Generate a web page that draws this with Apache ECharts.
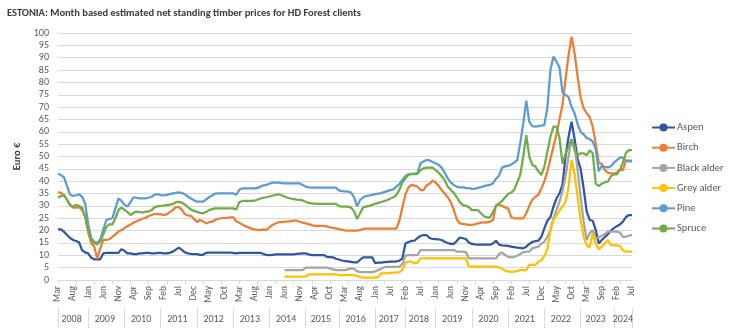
<!DOCTYPE html>
<html><head><meta charset="utf-8">
<script src="https://cdn.jsdelivr.net/npm/echarts@6/dist/echarts.min.js"></script>
<style>html,body{margin:0;padding:0;background:#fff}#c{width:731px;height:328px}</style>
</head><body><div id="c"></div>
<script>
// Category groups (year -> months present in the data)
const yearMonths = [
  ['2008', 'Mar Apr May Jun Jul Aug Sep Oct Nov Dec'],
  ['2009', 'Jan Feb Mar Apr May Jun Jul Aug Sep Oct Nov Dec'],
  ['2010', 'Jan Feb Mar Apr May Jun Jul Aug Sep Oct Nov Dec'],
  ['2011', 'Jan Feb Mar Apr May Jun Jul Aug Sep Oct Nov Dec'],
  ['2012', 'Jan Feb Mar Apr May Jun Jul Aug Sep Oct Nov Dec'],
  ['2013', 'Jan Feb Mar Apr May Jun Jul Aug Sep Oct Nov Dec'],
  ['2014', 'Jan Feb Mar Apr May Jun Jul Aug Sep Oct Nov Dec'],
  ['2015', 'Jan Feb Mar Apr May Jun Aug Sep Oct Nov Dec'],
  ['2016', 'Jan Feb Mar Apr May Jun Jul Aug Sep Oct Nov Dec'],
  ['2017', 'Jan Feb Mar Apr May Jul Aug Sep Oct Dec'],
  ['2018', 'Feb Mar Apr May Jun Jul Aug Sep Oct Nov'],
  ['2019', 'Jan Feb Mar Apr May Jun Jul Aug Sep Oct Nov Dec'],
  ['2020', 'Jan Feb Mar Apr May Jun Jul Aug Sep Oct Nov Dec'],
  ['2021', 'Jan Feb Mar Apr May Jun Jul Aug Sep Oct Nov Dec'],
  ['2022', 'Jan Feb Mar Apr May Jun Jul Aug Sep Oct Nov Dec'],
  ['2023', 'Jan Feb Mar Apr May Jun Aug Sep Oct Nov Dec'],
  ['2024', 'Jan Feb Mar Apr May Jun Jul']
];

const seriesNames = ['Aspen', 'Birch', 'Black alder', 'Grey alder', 'Pine', 'Spruce'];
const yTicks = {min: 0, max: 100, step: 5};

const aspen = [
  20.5,20.5,19.5,18.2,17.0,16.2,15.8,15.2,12.0,11.2,
  10.8,9.0,8.4,8.4,8.4,10.8,11.0,11.0,11.0,11.0,
  11.0,12.5,11.8,10.8,10.8,10.5,10.5,10.8,10.8,11.0,
  11.0,10.8,10.8,11.0,11.0,10.8,10.8,11.0,11.5,12.3,
  13.1,12.2,11.2,10.8,10.6,10.5,10.5,10.2,10.2,11.0,
  11.1,11.1,11.1,11.1,11.1,11.1,11.1,11.1,11.0,10.8,
  11.0,11.0,11.0,11.0,11.0,11.0,11.0,11.0,10.5,10.2,
  10.1,10.2,10.4,10.4,10.4,10.4,10.4,10.4,10.4,10.6,
  10.7,10.8,10.8,10.4,10.1,10.1,10.1,10.1,10.1,9.4,
  9.3,9.2,8.6,8.3,7.9,7.6,7.5,7.3,7.1,7.1,
  8.2,9.2,9.2,9.2,9.2,6.8,7.0,7.0,7.2,7.3,
  7.4,7.4,7.5,7.8,8.8,14.8,15.4,15.8,15.9,17.0,
  17.8,18.2,18.2,17.0,16.6,16.5,16.4,16.2,15.5,15.0,
  14.6,14.6,15.8,17.2,16.9,16.6,15.2,14.6,14.4,14.3,
  14.3,14.3,14.3,14.3,14.8,15.9,14.3,14.0,13.9,13.8,
  13.5,13.3,13.1,13.0,12.8,13.5,14.6,15.4,15.7,15.9,
  17.5,21.0,24.0,25.5,29.7,33.0,35.1,38.5,50.0,58.0,
  64.1,57.0,49.0,45.0,37.0,27.7,24.3,24.0,20.2,14.8,
  16.2,17.3,18.5,20.0,21.0,21.8,22.5,23.6,25.5,26.3,26.3
];
const birch = [
  35.6,35.3,34.4,32.4,30.4,29.3,29.3,29.5,28.3,25.5,
  19.2,15.0,13.5,8.6,12.8,16.2,16.2,16.5,17.5,18.5,
  19.6,20.2,21.0,21.8,22.5,23.2,23.8,24.3,24.8,25.2,
  25.9,26.3,26.7,26.7,26.6,26.4,26.6,27.5,28.3,29.5,
  29.5,28.5,26.6,26.2,26.0,24.8,23.5,24.3,23.8,22.9,
  23.4,23.6,24.3,24.8,25.0,25.1,25.2,25.4,25.4,23.8,
  23.2,22.5,21.8,21.3,20.8,20.5,20.3,20.2,20.5,20.3,
  21.3,22.3,22.9,23.4,23.4,23.6,23.6,23.8,24.0,24.0,
  23.6,23.2,22.9,22.6,22.2,21.9,21.9,21.9,21.9,21.7,
  21.3,21.1,20.9,20.6,20.3,20.1,20.0,20.0,20.0,20.0,
  20.2,20.7,20.8,20.8,20.8,20.8,20.8,20.8,20.8,20.8,
  20.8,20.8,20.8,24.0,29.5,34.5,37.5,38.5,38.2,37.8,
  36.4,36.4,38.3,39.0,40.3,39.4,38.2,36.4,35.0,33.5,
  31.5,28.5,24.5,22.9,22.7,22.5,22.3,22.3,22.5,22.9,
  23.2,23.3,23.3,23.6,24.3,30.4,30.4,30.0,29.4,29.0,
  25.5,25.0,25.0,25.0,25.0,27.0,30.0,32.6,33.7,34.5,
  37.0,40.0,44.0,49.0,54.0,59.0,65.0,71.0,81.0,91.0,
  98.5,91.8,82.3,74.0,69.5,67.5,66.0,62.0,55.3,47.5,
  47.0,44.5,43.5,43.2,43.2,43.5,44.8,44.5,48.3,48.3,48.3
];
const blackAlder = [
  null,null,null,null,null,null,null,null,null,null,
  null,null,null,null,null,null,null,null,null,null,
  null,null,null,null,null,null,null,null,null,null,
  null,null,null,null,null,null,null,null,null,null,
  null,null,null,null,null,null,null,null,null,null,
  null,null,null,null,null,null,null,null,null,null,
  null,null,null,null,null,null,null,null,null,null,
  null,null,null,null,null,4.0,4.0,4.0,4.0,4.0,
  4.0,4.0,5.0,5.0,5.0,5.0,5.0,5.0,5.0,5.0,
  4.7,4.3,4.0,4.0,4.0,4.0,4.3,4.7,4.5,3.5,
  3.3,3.2,3.2,3.2,3.2,3.5,4.0,4.5,5.2,5.3,
  5.3,5.3,5.3,5.3,6.5,9.8,10.1,10.1,10.1,10.2,
  12.1,12.1,12.1,12.1,12.1,12.1,12.1,12.1,12.1,12.1,
  12.1,12.1,11.5,11.5,11.5,11.3,8.8,8.8,8.8,8.8,
  8.8,8.8,8.8,8.8,8.8,8.8,10.5,11.1,10.1,9.4,
  9.2,9.4,9.8,10.5,11.2,11.5,11.5,12.8,13.2,13.5,
  14.8,15.5,17.5,20.2,25.0,28.3,31.7,36.0,41.8,50.0,
  57.0,54.0,44.5,33.7,23.6,16.2,18.9,20.2,16.9,17.2,
  17.8,18.6,19.6,19.6,19.6,19.6,19.2,17.5,17.5,18.0,18.2
];
const greyAlder = [
  null,null,null,null,null,null,null,null,null,null,
  null,null,null,null,null,null,null,null,null,null,
  null,null,null,null,null,null,null,null,null,null,
  null,null,null,null,null,null,null,null,null,null,
  null,null,null,null,null,null,null,null,null,null,
  null,null,null,null,null,null,null,null,null,null,
  null,null,null,null,null,null,null,null,null,null,
  null,null,null,null,null,1.4,1.4,1.4,1.4,1.4,
  1.4,1.4,1.4,2.3,2.3,2.3,2.3,2.3,2.3,2.3,
  2.3,2.3,2.3,2.0,2.0,2.0,2.0,2.0,2.0,1.6,
  1.2,1.0,1.0,1.0,1.0,1.0,1.2,2.7,2.7,2.8,
  2.9,3.0,3.1,3.2,4.0,7.1,7.4,7.4,6.7,7.0,
  8.8,8.8,8.8,8.8,8.8,8.8,8.8,8.8,8.8,8.8,
  8.8,8.8,8.8,8.8,8.8,8.8,5.4,5.4,5.4,5.4,
  5.4,5.4,5.4,5.4,5.4,5.4,5.2,4.5,3.8,3.4,
  3.4,3.4,3.6,4.0,4.0,4.0,6.1,6.1,6.1,7.4,
  8.1,9.7,12.5,20.2,24.3,26.3,28.0,30.0,31.5,37.8,
  48.6,43.0,33.7,24.3,17.5,14.2,13.0,18.9,14.8,12.4,
  13.5,14.8,16.2,14.2,14.0,14.0,13.8,12.0,11.5,11.5,11.5
];
const pine = [
  43.0,42.5,41.5,38.0,34.6,34.0,34.3,34.7,33.7,31.0,
  22.5,17.0,15.5,15.0,16.5,20.5,24.3,24.7,25.0,29.0,
  33.0,32.0,30.5,29.7,31.5,33.5,33.3,33.0,33.0,33.0,
  33.3,33.7,34.6,34.8,34.3,34.3,34.5,34.8,35.1,35.3,
  35.5,35.2,34.7,33.8,33.0,32.3,31.7,31.7,31.7,32.6,
  33.5,34.2,35.0,35.1,35.1,35.1,35.1,35.1,35.1,34.5,
  36.5,37.1,37.1,37.1,37.1,37.1,37.3,37.8,38.3,38.5,
  39.0,39.4,39.4,39.4,39.2,39.1,39.1,39.1,39.1,39.1,
  39.1,38.5,37.8,37.5,37.4,37.4,37.4,37.4,37.4,37.4,
  37.4,37.4,37.4,36.3,36.0,35.9,35.8,35.4,33.5,29.8,
  32.4,33.5,34.0,34.2,34.5,34.8,35.0,35.2,35.6,36.0,
  36.4,36.7,37.8,38.8,40.5,42.0,42.8,43.0,43.1,43.3,
  47.2,48.0,48.6,48.4,47.8,47.3,46.6,45.5,43.5,41.2,
  39.5,38.5,37.8,37.5,37.5,37.3,37.2,36.9,37.0,37.3,
  37.6,38.0,38.3,38.5,39.2,41.0,42.3,45.5,46.0,46.2,
  46.8,47.5,48.5,55.3,63.4,72.6,64.0,62.3,62.1,62.3,
  62.5,62.8,70.0,85.0,90.5,88.5,86.0,76.0,75.0,74.0,
  70.0,67.5,63.0,60.0,59.0,57.5,57.0,56.0,53.0,44.0,
  46.2,45.8,45.6,46.0,47.5,48.5,49.5,49.5,48.3,48.0,48.0
];
const spruce = [
  33.3,34.0,34.4,32.4,30.3,29.7,30.4,30.0,29.3,25.6,
  20.5,16.5,15.0,14.4,15.5,18.5,21.5,22.5,22.5,25.0,
  28.3,29.3,28.5,27.5,26.3,27.2,27.7,27.5,27.4,27.7,
  27.7,28.3,29.5,29.8,30.0,30.1,30.3,30.5,30.8,31.5,
  31.6,31.3,30.6,29.5,28.5,28.0,27.6,27.2,27.0,27.5,
  28.3,28.7,29.0,29.0,29.0,29.0,29.0,29.0,29.0,28.5,
  31.5,32.0,32.0,32.0,32.0,32.1,32.5,33.0,33.3,33.5,
  33.8,34.1,34.5,34.7,34.3,33.8,33.3,33.0,32.7,32.5,
  32.4,32.2,31.7,31.2,31.0,30.9,30.8,30.8,30.8,30.8,
  30.8,30.8,30.8,29.9,29.7,29.7,29.7,29.3,27.8,24.7,
  27.0,29.4,29.7,30.0,30.4,30.8,31.2,31.6,32.0,32.4,
  33.0,33.5,34.4,36.5,39.5,41.2,42.5,42.9,42.9,43.0,
  44.5,45.2,45.5,45.5,45.5,44.5,43.5,42.0,40.5,37.8,
  36.5,35.3,33.5,31.5,30.4,30.0,29.5,28.3,28.3,28.3,
  27.0,25.8,25.4,25.4,27.5,30.0,31.0,32.0,33.5,34.8,
  35.4,36.5,39.5,42.5,50.0,58.7,50.0,46.6,46.0,44.0,
  42.5,46.0,52.0,58.0,62.1,62.1,57.5,47.0,51.0,54.0,
  57.0,52.6,50.6,51.3,51.3,50.5,52.5,51.3,39.0,38.0,
  39.0,39.5,39.8,42.0,42.8,42.8,44.5,47.5,51.5,52.6,52.6
];
const seriesData = [aspen, birch, blackAlder, greyAlder, pine, spruce];
const colors = ['#2E56A6', '#ED7D31', '#A5A5A5', '#FFC000', '#5B9BD5', '#70AD47'];

// build category axis data
const categories = [];
const monthOf = [];
const yearStart = new Set();
const yearMid = {};
yearMonths.forEach(([y, ms]) => {
  const list = ms.split(' ');
  const start = categories.length;
  yearStart.add(start);
  const n = list.length;
  yearMid[start + Math.floor((n - 1) / 2)] = n % 2 === 0 ? '{e|' + y + '}' : '{o|' + y + '}';
  list.forEach(m => { categories.push(m + ' ' + y); monthOf.push(m); });
});
yearStart.add(categories.length - 1);

const FONT = 'Carlito, "Liberation Sans Narrow", "DejaVu Sans Condensed", "Open Sans", sans-serif';
const chart = echarts.init(document.getElementById('c'), null, {renderer: 'canvas'});
chart.setOption({
  animation: false,
  backgroundColor: '#ffffff',
  textStyle: {fontFamily: FONT},
  title: {
    text: 'ESTONIA: Month based estimated net standing timber prices for HD Forest clients',
    left: 7, top: 8, padding: 0,
    textStyle: {fontSize: 10.5, fontWeight: 'bold', color: '#3a3a3a', fontFamily: FONT}
  },
  legend: {
    orient: 'vertical', left: 651, top: 122, padding: 0,
    itemWidth: 23, itemHeight: 10, itemGap: 9.2,
    data: seriesNames,
    textStyle: {fontSize: 10.5, color: '#595959', fontFamily: FONT, padding: [0, 0, 0, -3]}
  },
  grid: {left: 58, right: 99, top: 33, bottom: 48, containLabel: false},
  xAxis: [
    {
      type: 'category', data: categories, boundaryGap: false,
      axisLine: {show: true, lineStyle: {color: '#d9d9d9'}},
      axisTick: {show: true, interval: 5, length: 4, lineStyle: {color: '#d9d9d9'}},
      axisLabel: {interval: 4, rotate: 90, fontSize: 9.5, color: '#595959', margin: 6,
                  fontFamily: FONT, formatter: (v, i) => monthOf[i]},
      splitLine: {show: false}
    },
    {
      type: 'category', data: categories, boundaryGap: false, position: 'bottom', offset: 28,
      axisLine: {show: false},
      axisTick: {show: true, interval: (i) => yearStart.has(i), length: 20, lineStyle: {color: '#d9d9d9'}},
      axisLabel: {interval: 0, fontSize: 10, color: '#595959', margin: 6, fontFamily: FONT,
                  formatter: (v, i) => yearMid[i] || '',
                  rich: {e: {fontSize: 10, color: '#595959', padding: [0, 0, 0, 3], fontFamily: FONT},
                         o: {fontSize: 10, color: '#595959', fontFamily: FONT}}},
      splitLine: {show: false}
    }
  ],
  yAxis: {
    type: 'value', min: yTicks.min, max: yTicks.max, interval: yTicks.step,
    name: 'Euro €', nameLocation: 'middle', nameGap: 30,
    nameTextStyle: {fontSize: 10.5, fontWeight: 'bold', color: '#404040', fontFamily: FONT},
    axisLine: {show: false}, axisTick: {show: false},
    axisLabel: {fontSize: 10, color: '#595959', margin: 9, fontFamily: FONT},
    splitLine: {lineStyle: {color: '#d9d9d9', width: 1}}
  },
  series: seriesNames.map((name, k) => ({
    name, type: 'line', data: seriesData[k], xAxisIndex: 0,
    symbol: 'none', showSymbol: false, connectNulls: false,
    lineStyle: {width: 2.25, color: colors[k]},
    itemStyle: {color: colors[k]}
  }))
});
</script>
</body></html>
